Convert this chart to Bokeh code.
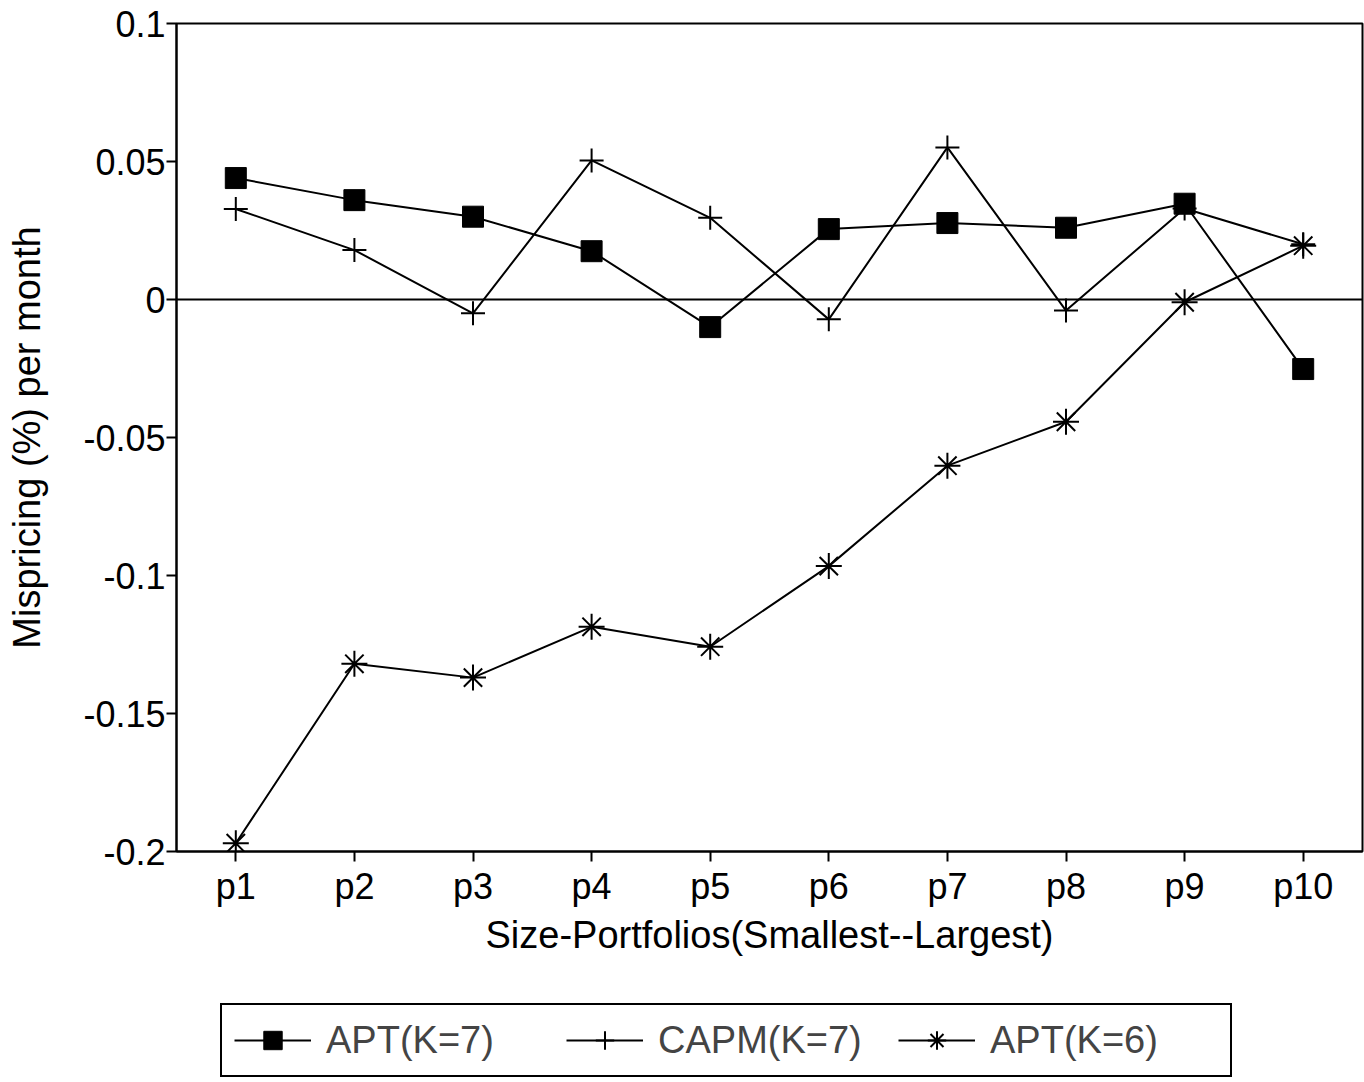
from bokeh.plotting import figure
from bokeh.layouts import column
from bokeh.models import (Range1d, FactorRange, FixedTicker, CustomJSTickFormatter,
                          Span, Legend, LegendItem, ColumnDataSource)
from bokeh.embed import file_html
from bokeh.resources import INLINE

portfolios = ["p1", "p2", "p3", "p4", "p5", "p6", "p7", "p8", "p9", "p10"]
apt_k7 = [0.044, 0.036, 0.030, 0.0175, -0.010, 0.0255, 0.0277, 0.026, 0.0347, -0.0252]
capm_k7 = [0.0328, 0.0179, -0.005, 0.0504, 0.0296, -0.0072, 0.0551, -0.004, 0.033, 0.020]
apt_k6 = [-0.197, -0.132, -0.137, -0.1186, -0.1258, -0.0966, -0.0602, -0.0443, -0.001, 0.0195]
y_ticks = [-0.2, -0.15, -0.1, -0.05, 0.0, 0.05, 0.1]
series_labels = ["APT(K=7)", "CAPM(K=7)", "APT(K=6)"]

FONT = "Liberation Sans"

src = ColumnDataSource(dict(x=portfolios, a7=apt_k7, c7=capm_k7, a6=apt_k6))


def add_series(fig):
    l1 = fig.line("x", "a7", source=src, line_color="black", line_width=2)
    m1 = fig.scatter("x", "a7", source=src, marker="square", size=21,
                     fill_color="black", line_color="black")
    l2 = fig.line("x", "c7", source=src, line_color="black", line_width=2)
    m2 = fig.scatter("x", "c7", source=src, marker="cross", size=24,
                     line_color="black", line_width=2)
    l3 = fig.line("x", "a6", source=src, line_color="black", line_width=2)
    m3 = fig.scatter("x", "a6", source=src, marker="asterisk", size=26,
                     line_color="black", line_width=2)
    return [[l1, m1], [l2, m2], [l3, m3]]


p = figure(x_range=FactorRange(*portfolios), y_range=Range1d(-0.2, 0.1),
           width=1364, height=1003, output_backend="svg", toolbar_location=None,
           min_border_left=176, min_border_right=2, min_border_top=23, min_border_bottom=152)
p.xgrid.visible = False
p.ygrid.visible = False
p.outline_line_color = "black"
p.outline_line_width = 2
p.background_fill_color = "white"
p.border_fill_color = "white"

p.add_layout(Span(location=0, dimension="width", line_color="black", line_width=2))
add_series(p)

for ax in (p.xaxis, p.yaxis):
    ax.axis_line_width = 2
    ax.major_tick_line_width = 2
    ax.major_tick_out = 10
    ax.major_tick_in = 0
    ax.minor_tick_line_color = None
    ax.major_label_text_font = FONT
    ax.major_label_text_font_size = "36px"
    ax.major_label_text_color = "black"
    ax.axis_label_text_font = FONT
    ax.axis_label_text_font_size = "38px"
    ax.axis_label_text_font_style = "normal"
    ax.axis_label_text_color = "black"

p.yaxis.ticker = FixedTicker(ticks=y_ticks)
p.yaxis.formatter = CustomJSTickFormatter(
    code="return tick.toFixed(2).replace(/0+$/, '').replace(/\\.$/, '');")
p.yaxis.major_label_standoff = 1
p.yaxis.axis_label = "Mispricing (%) per month"
p.yaxis.axis_label_standoff = 32

p.xaxis.major_label_standoff = 4
p.xaxis.axis_label = "Size-Portfolios(Smallest--Largest)"
p.xaxis.axis_label_standoff = 4

# legend strip below the chart (same series, drawn out of view; only the legend shows)
lg = figure(x_range=FactorRange(*portfolios), y_range=Range1d(10, 11),
            width=1364, height=79, output_backend="svg", toolbar_location=None,
            x_axis_location=None, y_axis_location=None,
            min_border=0, min_border_left=176, min_border_right=2,
            min_border_top=0, min_border_bottom=0)
lg.xgrid.visible = False
lg.ygrid.visible = False
lg.outline_line_color = None
lg.background_fill_color = "white"
lg.border_fill_color = "white"
rends = add_series(lg)

legend = Legend(items=[LegendItem(label=lab, renderers=r) for lab, r in zip(series_labels, rends)],
                orientation="horizontal", location=(44, 5),
                label_text_font=FONT, label_text_font_size="38px",
                glyph_width=77, glyph_height=46, label_standoff=15,
                label_width=228, spacing=12, padding=12, margin=0,
                border_line_color="black", border_line_width=2, border_line_alpha=1.0,
                background_fill_alpha=1.0)
lg.add_layout(legend)

layout = column(p, lg, spacing=0)
open("out.html", "w").write(file_html(layout, INLINE))
